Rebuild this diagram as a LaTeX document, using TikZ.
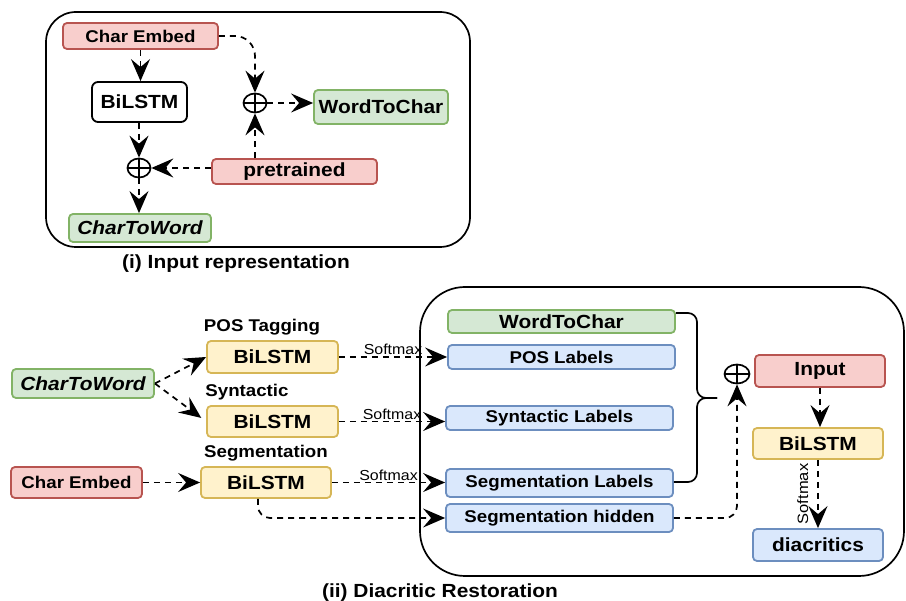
\documentclass[tikz,border=0pt]{standalone}
\usepackage{fontspec}
\setmainfont{Liberation Sans}[FakeStretch=1.1]
\usetikzlibrary{arrows.meta,shapes.geometric}
\definecolor{rdF}{HTML}{F8CECC}\definecolor{rdS}{HTML}{B85450}
\definecolor{grF}{HTML}{D5E8D4}\definecolor{grS}{HTML}{82B366}
\definecolor{blF}{HTML}{DAE8FC}\definecolor{blS}{HTML}{6C8EBF}
\definecolor{ylF}{HTML}{FFF2CC}\definecolor{ylS}{HTML}{D6B656}
\tikzset{
 base/.style={rectangle, rounded corners=4pt, line width=1.8pt, inner sep=0pt, align=center, font=\bfseries\fontsize{19}{22}\selectfont},
 rbox/.style={base, draw=rdS, fill=rdF},
 gbox/.style={base, draw=grS, fill=grF},
 bbox/.style={base, draw=blS, fill=blF},
 ybox/.style={base, draw=ylS, fill=ylF},
 wbox/.style={base, draw=black, fill=white, rounded corners=6pt},
 fsm/.style={font=\bfseries\fontsize{17}{20}\selectfont},
 fsi/.style={font=\bfseries\itshape\fontsize{19}{22}\selectfont},
 tipA/.tip={Stealth[length=22pt,width=19pt,inset=8pt]},
 conn/.style={line width=1.7pt, dash pattern=on 6pt off 5pt, -tipA},
 oplus/.style={ellipse, draw, line width=1.7pt, inner sep=0pt, minimum width=23pt, minimum height=19pt,
   path picture={\draw[line width=1.7pt] (path picture bounding box.north) -- (path picture bounding box.south) (path picture bounding box.west) -- (path picture bounding box.east);}},
 frm/.style={draw, line width=1.7pt, rounded corners=#1},
 lbl/.style={inner sep=0pt, font=\bfseries\fontsize{17}{20}\selectfont},
 captxt/.style={inner sep=0pt, font=\bfseries\fontsize{19}{22}\selectfont},
 smx/.style={inner sep=1.5pt, font=\fontsize{14.5}{16}\selectfont},
 brc/.style={draw, line width=1.7pt, rounded corners=9pt},
}
\begin{document}
\begin{tikzpicture}[x=1pt,y=-1pt]
\useasboundingbox (0,0) rectangle (906,601);
% ---------- panel (i)
\draw[frm=30pt] (46,12) rectangle (470,247);
\node[rbox, fsm, minimum width=155pt, minimum height=26pt] (ce1) at (140.5,36) {Char Embed};
\node[wbox, minimum width=95pt, minimum height=40pt] (bl1) at (139.5,102) {BiLSTM};
\node[oplus] (p1) at (139,168) {};
\node[oplus] (p2) at (255,103) {};
\node[gbox, minimum width=134pt, minimum height=34pt] (wc1) at (381,107) {WordToChar};
\node[rbox, minimum width=165pt, minimum height=25pt, text depth=3pt] (pt) at (294.5,171.5) {pretrained};
\node[gbox, fsi, minimum width=142pt, minimum height=28pt] (cw1) at (140,228) {CharToWord};
\node[captxt] (cap1) at (236,264) {(i) Input representation};

\draw[conn] (ce1.south) -- (ce1.south |- bl1.north);
\draw[conn, rounded corners=20pt] (ce1.east) -| (p2.north);
\draw[conn] (bl1.south -| p1) -- (p1.north);
\draw[conn] (p1.east -| pt.west) -- (p1.east);
\draw[conn] (p2 |- pt.north) -- (p2.south);
\draw[conn] (p2.east) -- (p2.east -| wc1.west);
\draw[conn] (p1.south) -- (p1.south |- cw1.north);

% ---------- panel (ii)
\draw[frm=45pt] (420,287) rectangle (904,576);
\node[gbox, fsi, minimum width=142pt, minimum height=29pt] (cw2) at (83,383.5) {CharToWord};
\node[rbox, fsm, minimum width=131pt, minimum height=31pt] (ce2) at (76.5,482.5) {Char Embed};
\node[ybox, minimum width=131pt, minimum height=32pt] (b1) at (272.5,357) {BiLSTM};
\node[ybox, minimum width=131pt, minimum height=31pt] (b2) at (272.5,421.5) {BiLSTM};
\node[ybox, minimum width=130pt, minimum height=31pt] (b3) at (266,482.5) {BiLSTM};
\node[lbl] (t1) at (262,327) {POS Tagging};
\node[lbl] (t2) at (247,392) {Syntactic};
\node[lbl] (t3) at (266,453) {Segmentation};

\node[gbox, minimum width=227pt, minimum height=23pt] (w2) at (561.5,321.5) {WordToChar};
\node[bbox, fsm, minimum width=227pt, minimum height=24pt] (l1) at (561.5,357) {POS Labels};
\node[bbox, fsm, minimum width=227pt, minimum height=24pt] (l2) at (559.5,418) {Syntactic Labels};
\node[bbox, fsm, minimum width=227pt, minimum height=28pt] (l3) at (559.5,483) {Segmentation Labels};
\node[bbox, fsm, minimum width=227pt, minimum height=28pt] (l4) at (559.5,518) {Segmentation hidden};
\node[oplus, minimum width=25pt] (p3) at (737,374) {};
\node[rbox, minimum width=130pt, minimum height=32pt] (in) at (820,371) {Input};
\node[ybox, minimum width=130pt, minimum height=31pt] (b4) at (818,443.5) {BiLSTM};
\node[bbox, minimum width=130pt, minimum height=32pt] (dc) at (818,545) {diacritics};
\node[captxt] (cap2) at (440,593) {(ii) Diacritic Restoration};

\draw[conn] (cw2.east) -- (b1.west);
\draw[conn, shorten >=6pt] (cw2.east) -- (b2.west);
\draw[conn] (ce2.east) -- (b3.west);
\draw[conn] (b1.east) -- node[smx, above] {Softmax} (b1.east -| l1.west);
\draw[conn] (b2.east) -- node[smx, above] {Softmax} (b2.east -| l2.west);
\draw[conn] (b3.east) -- node[smx, above] {Softmax} (b3.east -| l3.west);
\draw[conn, rounded corners=12pt] ([xshift=-8pt]b3.south) |- (l4.west);

\coordinate (bt) at (697,313);
\coordinate (bm) at (697,398);
\coordinate (bb) at (697,482);
\coordinate (btip) at (717,398);
\draw[brc] (w2.east |- bt) -- (bt) -- (bm) -- (btip);
\draw[brc] (btip) -- (bm) -- (bb) -- (l3.east |- bb);

\draw[conn, rounded corners=12pt] (l4.east) -| (p3.south);
\draw[conn] (in.south) -- (in.south |- b4.north);
\draw[conn] (b4.south) -- node[smx, rotate=90, anchor=south, inner sep=9pt, font=\fontsize{15}{17}\selectfont] {Softmax} (b4.south |- dc.north);
\end{tikzpicture}
\end{document}
